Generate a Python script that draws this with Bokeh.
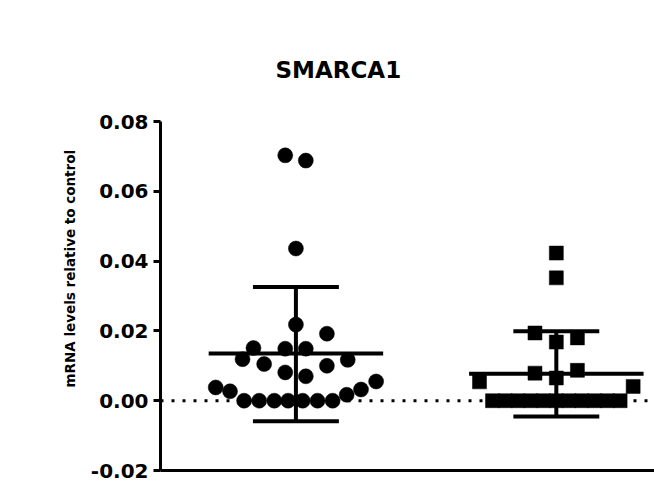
from bokeh.plotting import figure
from bokeh.models import Range1d, FixedTicker, PrintfTickFormatter, Span, Title
from bokeh.embed import file_html
from bokeh.resources import INLINE

# ---- data ----
title_text = "SMARCA1"
y_label_text = "mRNA levels relative to control"
y_ticks = [-0.02, 0.0, 0.02, 0.04, 0.06, 0.08]

group_pos = [1, 2]

# group 1 (circles)
g1_values = [0.0703, 0.0688, 0.0436, 0.0218, 0.0192, 0.0151, 0.0149, 0.0149,
             0.0119, 0.0105, 0.0117, 0.0100, 0.0081, 0.0070, 0.0038, 0.0027,
             0.0055, 0.0032, 0.0017,
             0.0, 0.0, 0.0, 0.0, 0.0, 0.0, 0.0]
g1_jitter = [-0.041, 0.038, 0.0, 0.0, 0.119, -0.163, -0.041, 0.038,
             -0.205, -0.122, 0.199, 0.119, -0.041, 0.038, -0.308, -0.253,
             0.308, 0.250, 0.195,
             -0.199, -0.141, -0.083, -0.030, 0.026, 0.083, 0.141]

# group 2 (squares)
g2_values = [0.0423, 0.0352, 0.0194, 0.0168, 0.0180, 0.0054, 0.0079, 0.0087,
             0.0065, 0.0041,
             0.0, 0.0, 0.0, 0.0, 0.0, 0.0, 0.0, 0.0, 0.0, 0.0, 0.0]
g2_jitter = [0.0, 0.0, -0.082, 0.0, 0.081, -0.295, -0.082, 0.081,
             0.0, 0.295,
             -0.245, -0.196, -0.147, -0.098, -0.049, 0.0, 0.049, 0.098, 0.147, 0.196, 0.245]

group_means = [0.0135, 0.0077]
group_upper = [0.0326, 0.0199]
group_lower = [-0.0059, -0.0045]

# ---- styling ----
FONT = "DejaVu Sans"
MEAN_HALF = 0.335
CAP_HALF = 0.165

p = figure(width=654, height=482, output_backend="svg", toolbar_location=None,
           x_range=Range1d(0.48, 2.377), y_range=Range1d(-0.02, 0.08),
           min_border_left=160, min_border_right=0, min_border_top=121,
           min_border_bottom=12)
p.outline_line_color = None
p.background_fill_color = "white"
p.border_fill_color = "white"
p.xgrid.visible = False
p.ygrid.visible = False

# title
p.title.text = title_text
p.title.text_font = FONT
p.title.text_font_style = "bold"
p.title.text_font_size = "23px"
p.title.text_color = "black"
p.title.align = "left"
p.title.offset = 115
p.title.standoff = 78

# y axis
ya = p.yaxis[0]
ya.ticker = FixedTicker(ticks=y_ticks)
ya.formatter = PrintfTickFormatter(format="%.2f")
ya.axis_line_width = 3
ya.axis_line_color = "black"
ya.major_tick_line_width = 3
ya.major_tick_line_color = "black"
ya.major_tick_out = 7
ya.major_tick_in = 0
ya.minor_tick_line_color = None
ya.major_label_standoff = 5
ya.major_label_text_font = FONT
ya.major_label_text_font_style = "bold"
ya.major_label_text_font_size = "20px"
ya.major_label_text_color = "black"

# y label as a side title (allows vertical offset)
p.add_layout(Title(text=y_label_text, align="left", offset=83, standoff=19,
                   text_font=FONT, text_font_style="bold", text_font_size="13.5px",
                   text_color="black"), "left")

# x axis: line only
xa = p.xaxis[0]
xa.axis_line_width = 3
xa.axis_line_color = "black"
xa.major_tick_line_color = None
xa.minor_tick_line_color = None
xa.major_label_text_font_size = "0px"
xa.major_label_standoff = 0
xa.ticker = FixedTicker(ticks=[])

# dotted zero line
p.add_layout(Span(location=0, dimension="width", line_color="black",
                  line_width=3, line_dash="3 8", level="underlay"))

# points
g1_x = [group_pos[0] + j for j in g1_jitter]
g2_x = [group_pos[1] + j for j in g2_jitter]
p.scatter(g1_x, g1_values, marker="circle", size=15, fill_color="black", line_color="black", line_width=0.5)
p.scatter(g2_x, g2_values, marker="square", size=14, fill_color="black", line_color="black", line_width=0.5)

# mean +/- SD bars
p.segment(x0=group_pos, y0=group_lower, x1=group_pos, y1=group_upper, line_color="black", line_width=4)
p.segment(x0=[g - MEAN_HALF for g in group_pos], y0=group_means,
          x1=[g + MEAN_HALF for g in group_pos], y1=group_means, line_color="black", line_width=4)
p.segment(x0=[g - CAP_HALF for g in group_pos], y0=group_upper,
          x1=[g + CAP_HALF for g in group_pos], y1=group_upper, line_color="black", line_width=4)
p.segment(x0=[g - CAP_HALF for g in group_pos], y0=group_lower,
          x1=[g + CAP_HALF for g in group_pos], y1=group_lower, line_color="black", line_width=4)

open("out.html", "w").write(file_html(p, INLINE))
